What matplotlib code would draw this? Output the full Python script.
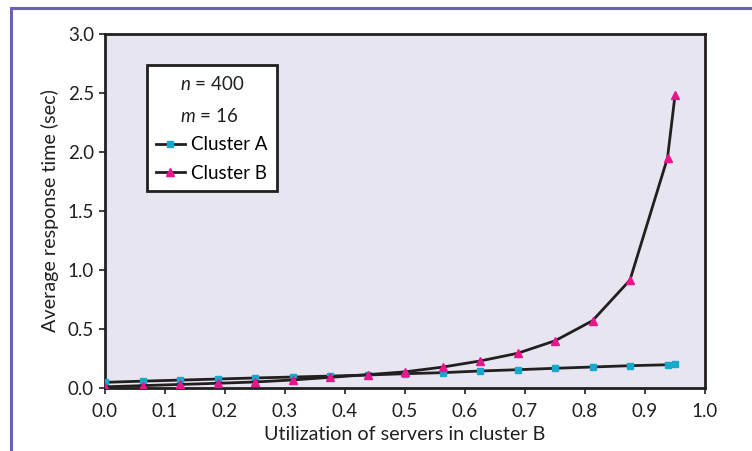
import matplotlib
matplotlib.use("Agg")
import matplotlib.pyplot as plt
from matplotlib.lines import Line2D

plt.rcParams['font.family'] = ['Lato', 'DejaVu Sans']
plt.rcParams['mathtext.fontset'] = 'custom'
plt.rcParams['mathtext.it'] = 'Lato:italic'
plt.rcParams['mathtext.rm'] = 'Lato'

utilization = [0.0, 0.0625, 0.125, 0.1875, 0.25, 0.3125, 0.375, 0.4375, 0.5,
               0.5625, 0.625, 0.6875, 0.75, 0.8125, 0.875, 0.9375, 0.95]
cluster_a = [0.048, 0.058, 0.067, 0.076, 0.085, 0.093, 0.101, 0.110, 0.121,
             0.130, 0.144, 0.155, 0.167, 0.178, 0.189, 0.197, 0.200]
cluster_b = [0.010, 0.020, 0.030, 0.040, 0.051, 0.068, 0.090, 0.113, 0.137,
             0.177, 0.229, 0.294, 0.400, 0.570, 0.915, 1.950, 2.480]
x_ticks = [0.0, 0.1, 0.2, 0.3, 0.4, 0.5, 0.6, 0.7, 0.8, 0.9, 1.0]
y_ticks = [0.0, 0.5, 1.0, 1.5, 2.0, 2.5, 3.0]

fig = plt.figure(figsize=(7.52, 4.51), dpi=100)
ax = fig.add_axes([105/752, 1-388/451, 600/752, 354/451])
ax.set_facecolor('#e7e6f0')

ax.plot(utilization, cluster_a, color='#231f20', lw=2, marker='s', ms=5,
        mfc='#15a9cc', mec='#15a9cc', label='Cluster A', zorder=3)
ax.plot(utilization, cluster_b, color='#231f20', lw=2, marker='^', ms=6,
        mfc='#e8168c', mec='#e8168c', label='Cluster B', zorder=3)

ax.set_xlim(0, 1.0)
ax.set_ylim(0, 3.0)
ax.set_xticks(x_ticks)
ax.set_xticklabels([f"{v:.1f}" for v in x_ticks])
ax.set_yticks(y_ticks)
ax.set_yticklabels([f"{v:.1f}" for v in y_ticks])
ax.tick_params(direction='out', length=4, width=1.2, labelsize=13.5,
               colors='#231f20', pad=4)
ax.tick_params(axis='x', pad=7)
for s in ax.spines.values():
    s.set_linewidth(2)
    s.set_color('#231f20')

ax.set_xlabel('Utilization of servers in cluster B', fontsize=14.2,
              color='#231f20', labelpad=4)
ax.set_ylabel('Average response time (sec)', fontsize=14.2,
              color='#231f20', labelpad=6)

leg = ax.legend(loc='upper left', bbox_to_anchor=(0.07, 0.912),
                title='$n$ = 400\n$m$ = 16', fontsize=13.5, title_fontsize=13.5,
                frameon=True, fancybox=False, edgecolor='#231f20',
                facecolor='white', framealpha=1, handlelength=1.5,
                handletextpad=0.35, borderpad=0.5, labelspacing=0.62,
                borderaxespad=0)
leg.get_frame().set_linewidth(2)
leg.get_title().set_linespacing(1.95)
leg.get_title().set_color('#231f20')

# figure frame lines (top and left)
fig.add_artist(Line2D([11/752, 1.0], [1-8/451, 1-8/451], color='#6a63ad',
                      lw=2.2, transform=fig.transFigure))
fig.add_artist(Line2D([11/752, 11/752], [0, 1-8/451], color='#6a63ad',
                      lw=2.2, transform=fig.transFigure))

fig.savefig('out.png', dpi=100)
